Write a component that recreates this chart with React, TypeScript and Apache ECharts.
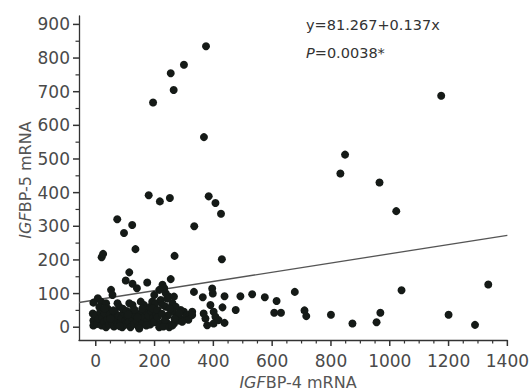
import React, { useEffect, useRef } from "react";
import * as echarts from "echarts";

// ---- data ----
const xTickValues = [0, 200, 400, 600, 800, 1000, 1200, 1400];
const xMinorTickValues = [50, 100, 150, 250, 300, 350, 450, 500, 550, 650, 700, 750, 850, 900, 950, 1050, 1100, 1150, 1250, 1300, 1350];
const yTickValues = [0, 100, 200, 300, 400, 500, 600, 700, 800, 900];
const yMinorTickValues = [50, 150, 250, 350, 450, 550, 650, 750, 850];

const highPoints = [
  [195, 668], [255, 755], [265, 705], [300, 780], [375, 835], [368, 565],
  [1175, 688], [848, 513], [832, 457], [965, 430], [1022, 345],
];
const midPoints = [
  [180, 392], [218, 374], [252, 384], [384, 389], [407, 369], [426, 337],
  [73, 321], [124, 304], [96, 280], [335, 300], [20, 208], [25, 218],
  [135, 232], [268, 212], [429, 202],
];
const rightLowPoints = [
  [1040, 110], [1335, 127], [575, 89], [615, 78], [607, 43], [630, 43],
  [677, 105], [710, 50], [716, 33], [800, 37], [873, 11], [955, 15],
  [968, 43], [1200, 37], [1290, 7],
];
const midRightPoints = [
  [438, 92], [431, 59], [438, 13], [476, 51], [492, 92], [532, 98],
  [334, 105], [364, 89], [396, 115], [398, 100], [390, 66], [401, 46],
  [407, 31], [373, 26], [367, 41], [328, 46], [379, 6], [401, 11],
  [418, 21], [300, 46], [289, 51],
];
const clusterLeftPoints = [
  [114, 163], [102, 139], [125, 129], [140, 116], [175, 133], [52, 111],
  [57, 96], [7, 86], [18, 76], [-8, 73], [35, 71], [40, 56], [74, 71],
  [80, 61], [114, 71], [125, 66], [153, 76], [164, 66], [192, 76],
  [198, 61], [-10, 41], [-8, 20], [-8, 5], [0, 35],
];
const clusterMassPoints = [
  [5, 10], [10, 25], [15, 45], [20, 5], [22, 30], [28, 15], [30, 40],
  [35, 0], [40, 22], [45, 8], [48, 38], [55, 15], [58, 30], [62, 2],
  [65, 45], [70, 20], [75, 8], [78, 35], [85, 15], [88, 28], [90, 0],
  [95, 42], [100, 20], [102, 8], [108, 32], [112, 15], [118, 0],
  [120, 45], [125, 25], [130, 10], [135, 35], [140, 18], [145, 2],
  [150, 40], [155, 25], [160, 12], [165, 30], [170, 48], [175, 20],
  [180, 35], [185, 8], [190, 45], [195, 28], [200, 15], [205, 38], [148, -4],
  [12, 60], [30, 55], [60, 50], [92, 55], [105, 48], [132, 52], [158, 55],
  [185, 60], [50, 25], [82, 3], [110, 38], [142, 30], [172, 5],
];
const clusterRightPoints = [
  [255, 143], [227, 126], [233, 116], [216, 111], [199, 96], [238, 101],
  [249, 91], [266, 91], [204, 71], [221, 81], [193, 56], [210, 51],
  [238, 61], [261, 71], [272, 61], [261, 46], [199, 16], [221, 11],
  [244, 11], [266, 11], [216, 0], [230, 2], [250, 0], [260, 5],
  [210, 30], [245, 35], [275, 30], [280, 20], [225, 40], [290, 25],
  [310, 35], [320, 38], [315, 22], [294, 16], [328, 36],
  [243, 85], [228, 66], [252, 55], [283, 42], [235, 22], [268, 25],
];

const intercept = 81.267;
const slope = 0.137;
const xMin = -57;
const xMax = 1400;
const yMin = -38;
const yMax = 925;

const FONT = "DejaVu Sans";
const AXIS_COLOR = "#333";

export default function App() {
  const ref = useRef<HTMLDivElement>(null);
  useEffect(() => {
    if (!ref.current) return;
    const chart = echarts.init(ref.current, null, { renderer: "svg" });
    const allPoints = [
      ...highPoints, ...midPoints, ...rightLowPoints, ...midRightPoints,
      ...clusterLeftPoints, ...clusterMassPoints, ...clusterRightPoints,
    ];
    const labelColor = "#4a4a4a";
    const titleRich = { i: { fontStyle: "italic", fontSize: 16, fontFamily: FONT, fill: "#555" } };
    chart.setOption({
      animation: false,
      backgroundColor: "#fff",
      grid: { left: 79, right: 21, top: 16, bottom: 52, containLabel: false },
      xAxis: {
        type: "value", min: xMin, max: xMax,
        splitLine: { show: false },
        axisLine: { show: true, onZero: false, lineStyle: { color: AXIS_COLOR, width: 1.3 } },
        axisTick: { show: false },
        axisLabel: {
          customValues: xTickValues, color: labelColor, fontSize: 17, fontFamily: FONT, margin: 12,
          formatter: (v: number) => String(v),
        },
      },
      yAxis: {
        type: "value", min: yMin, max: yMax,
        splitLine: { show: false },
        axisLine: { show: true, onZero: false, lineStyle: { color: AXIS_COLOR, width: 1.3 } },
        axisTick: { show: false },
        axisLabel: {
          customValues: yTickValues, color: labelColor, fontSize: 17, fontFamily: FONT, margin: 9,
          formatter: (v: number) => String(v),
        },
      },
      series: [
        {
          type: "line",
          data: [[xMin, intercept + slope * xMin], [xMax, intercept + slope * xMax]],
          symbol: "none",
          lineStyle: { color: "#555", width: 1.3 },
          z: 1,
        },
        {
          type: "scatter",
          data: allPoints,
          symbol: "circle",
          symbolSize: 8,
          itemStyle: { color: "#151a17", opacity: 1 },
          z: 2,
        },
      ],
    });

    // tick marks placed through the library's own scales
    const ticks: any[] = [];
    const addX = (vals: number[], len: number, w: number) => {
      vals.forEach((v) => {
        const p = chart.convertToPixel({ gridIndex: 0 }, [v, yMin]) as number[];
        ticks.push({ type: "rect", silent: true, z: 10, shape: { x: p[0] - w / 2, y: p[1], width: w, height: len }, style: { fill: AXIS_COLOR } });
      });
    };
    const addY = (vals: number[], len: number, w: number) => {
      vals.forEach((v) => {
        const p = chart.convertToPixel({ gridIndex: 0 }, [xMin, v]) as number[];
        ticks.push({ type: "rect", silent: true, z: 10, shape: { x: p[0] - len, y: p[1] - w / 2, width: len, height: w }, style: { fill: AXIS_COLOR } });
      });
    };
    addX(xTickValues, 6, 1.5);
    addX(xMinorTickValues, 3.5, 1.2);
    addY(yTickValues, 6, 1.5);
    addY(yMinorTickValues, 3.5, 1.2);

    chart.setOption({
      graphic: [
        ...ticks,
        {
          type: "text", x: 306, y: 25,
          style: { text: "y=81.267+0.137x", fontSize: 14.5, fontFamily: FONT, fill: "#333", verticalAlign: "middle", align: "left" },
        },
        {
          type: "text", x: 306, y: 53,
          style: {
            text: "{i|P}=0.0038*", fontSize: 14.5, fontFamily: FONT, fill: "#333", verticalAlign: "middle", align: "left",
            rich: { i: { fontStyle: "italic", fontSize: 14.5, fontFamily: FONT, fill: "#333" } },
          },
        },
        {
          type: "text", x: 25, y: 180, rotation: Math.PI / 2,
          style: {
            text: "{i|IGF}BP-5 mRNA", fontSize: 16, fontFamily: FONT, fill: "#555", verticalAlign: "middle", align: "center",
            rich: titleRich,
          },
        },
        {
          type: "text", x: 298, y: 382,
          style: {
            text: "{i|IGF}BP-4 mRNA", fontSize: 16, fontFamily: FONT, fill: "#555", verticalAlign: "middle", align: "center",
            rich: titleRich,
          },
        },
      ],
    });
    return () => chart.dispose();
  }, []);
  return <div ref={ref} style={{ width: 532, height: 392, position: "absolute", left: 0, top: 0 }} />;
}
